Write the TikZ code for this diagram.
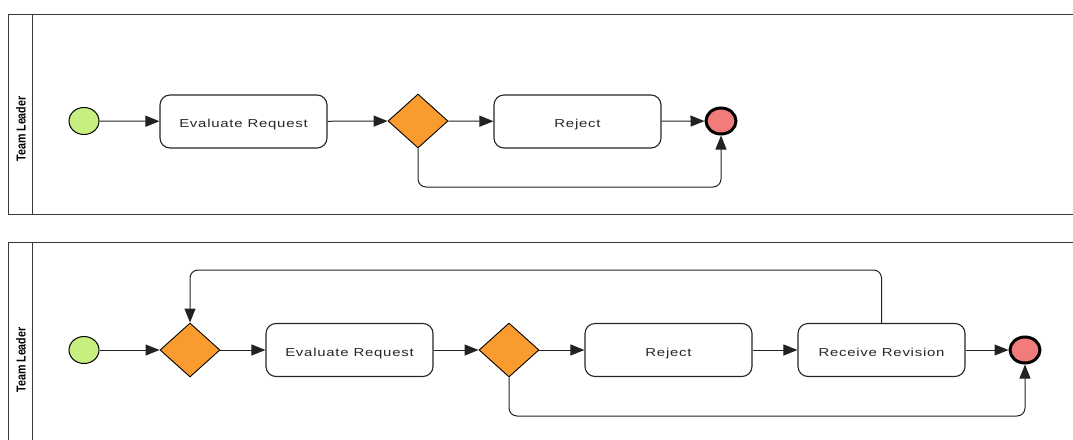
\documentclass[tikz,border=0pt]{standalone}
\usepackage{fontspec}
\setmainfont{Liberation Sans}
\usetikzlibrary{arrows.meta,shapes.geometric}
\definecolor{startgreen}{HTML}{C6EF7F}
\definecolor{gatewayorange}{HTML}{F99B2E}
\definecolor{endred}{HTML}{F27C7C}
\definecolor{flowclr}{HTML}{222222}
\definecolor{poolclr}{HTML}{3A3A3A}
\newcommand{\tasktext}{\fontsize{11.5}{13}\selectfont\addfontfeature{LetterSpace=5}\color{black!85}}
\newcommand{\tasklabel}[1]{\scalebox{1.3}[1]{#1}}
\begin{document}
\begin{tikzpicture}[x=1pt,y=-1pt,
  pool/.style={draw=poolclr, line width=1pt},
  lanelabel/.style={rotate=90, font=\fontsize{13}{14}\selectfont\bfseries, inner sep=0},
  task/.style={draw=black!85, line width=1.1pt, rounded corners=10pt, fill=white,
    minimum width=167pt, minimum height=53pt, inner sep=0, font=\tasktext,
    text height=12pt, text depth=0pt},
  gateway/.style={diamond, draw=black, line width=0.9pt, fill=gatewayorange,
    minimum width=60pt, minimum height=54pt, inner sep=0},
  startev/.style={ellipse, draw=black, line width=1pt, fill=startgreen,
    minimum width=30pt, minimum height=27pt, inner sep=0},
  endev/.style={ellipse, draw=black, line width=3pt, fill=endred,
    minimum width=30pt, minimum height=26pt, inner sep=0},
  flow/.style={draw=flowclr, line width=1pt, rounded corners=8pt,
    -{Triangle[length=14pt,width=11pt]}}
]
\useasboundingbox (0,0) rectangle (1073,439);

% ---------- first pool ----------
\draw[pool] (1080,14) -- (8,14) -- (8,214) -- (1080,214);
\draw[pool] (32,14) -- (32,214);
\node[lanelabel] (lane1) at (21,129) {\scalebox{0.82}[1]{Team Leader}};

\node[startev] (s1) at (84,121) {};
\node[task] (eval1) at (243.5,121.5) {\tasklabel{Evaluate Request}};
\node[gateway] (g1) at (418,121) {};
\node[task] (rej1) at (577.5,121.5) {\tasklabel{Reject}};
\node[endev] (e1) at (721,121) {};

\draw[flow] (s1) -- (eval1);
\draw[flow] (eval1) -- (g1);
\draw[flow] (g1) -- (rej1);
\draw[flow] (rej1) -- (e1);
\draw[flow] (g1.south) -- (418,187) -- (721,187) -- (e1.south);

% ---------- second pool ----------
\draw[pool] (1080,242) -- (8,242) -- (8,450);
\draw[pool] (32,242) -- (32,450);
\node[lanelabel] (lane2) at (21,360) {\scalebox{0.82}[1]{Team Leader}};

\node[startev] (s2) at (84,350) {};
\node[gateway] (g2) at (190,350) {};
\node[task] (eval2) at (349.5,350) {\tasklabel{Evaluate Request}};
\node[gateway] (g3) at (509,350) {};
\node[task] (rej2) at (668.5,350) {\tasklabel{Reject}};
\node[task] (rev2) at (881.5,350) {\tasklabel{Receive Revision}};
\node[endev] (e2) at (1025,350) {};

\draw[flow] (s2) -- (g2);
\draw[flow] (g2) -- (eval2);
\draw[flow] (eval2) -- (g3);
\draw[flow] (g3) -- (rej2);
\draw[flow] (rej2) -- (rev2);
\draw[flow] (rev2) -- (e2);
\draw[flow] (rev2.north) -- (881.5,270) -- (190,270) -- (g2.north);
\draw[flow] (g3.south) -- (509,416) -- (1025,416) -- (e2.south);
\end{tikzpicture}
\end{document}
